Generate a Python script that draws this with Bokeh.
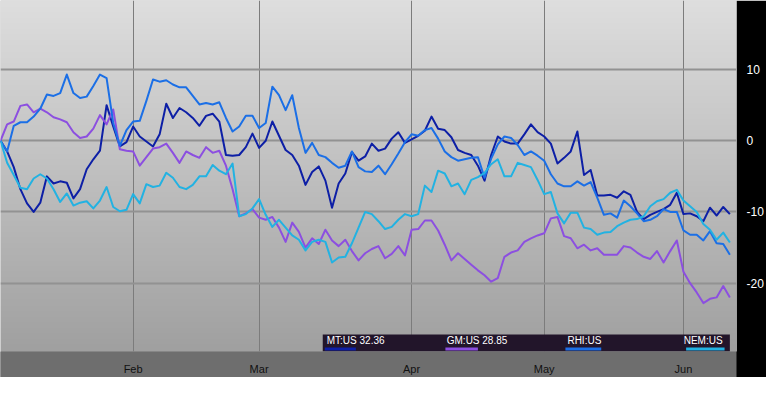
import numpy as np
from bokeh.plotting import figure
from bokeh.models import Range1d, BoxAnnotation, Label
from bokeh.embed import file_html
from bokeh.resources import INLINE

# ---- data (trading-day index, % change) ----
days = list(range(111))

mt = [0, -1.5, -3.7, -6.8, -8.8, -10.0, -8.7, -5.0, -6.0, -5.7, -5.9, -8.1, -6.8, -4.0, -2.6, -1.4, 5.0, 2.0, -0.8, -0.2,
      2.0, 0.6, -0.1, -0.8, 0.9, 5.2, 3.2, 4.6, 4.0, 3.2, 2.1, 3.5, 3.8, 2.7, -2.0, -2.1, -2.0, -0.9,
      1.0, -1.0, 0.0, 2.7, 0.7, -1.3, -2.0, -3.5, -6.2, -4.4, -3.6, -5.6, -9.4, -6.0, -4.6, -1.6, -2.8, -2.2, -0.4,
      -1.4, -1.1, 0.3, 1.2, -0.3, 0.2, 0.7, 1.4, 3.4, 1.7, 1.5, 0.5, -1.3, -1.7, -2.0, -3.5, -5.6, -2.0,
      0.6, -0.1, -0.4, -0.4, 0.9, 2.3, 1.2, 0.6, -0.4, -3.2, -2.4, -1.5, 1.3, -4.8, -4.1, -7.7, -7.7,
      -7.6, -8.0, -7.1, -7.6, -10.0, -11.0, -10.4, -10.0, -9.6, -9.0, -7.3, -10.3, -10.2, -10.6, -11.3, -9.4, -10.5, -9.3, -10.3]

gm = [0, 2.3, 2.7, 4.9, 5.1, 4.0, 4.5, 4.0, 3.3, 3.0, 2.6, 1.2, 0.4, 0.6, 1.7, 3.6, 2.3, 4.4, -1.2, -1.4,
      -1.5, -3.5, -2.3, -1.1, -0.9, -0.4, -1.7, -3.1, -1.5, -2.0, -2.4, -0.9, -1.7, -1.4, -3.5, -6.8, -10.6, -10.2,
      -9.6, -10.8, -11.1, -10.7, -12.2, -14.2, -11.5, -12.8, -15.0, -13.7, -14.5, -12.5, -14.0, -14.8, -13.9, -15.5, -16.8, -15.8, -15.2,
      -14.8, -16.5, -15.9, -14.8, -16.1, -12.5, -12.4, -11.2, -11.2, -12.6, -14.6, -16.8, -15.8, -16.6, -17.4, -18.2, -18.9, -19.8,
      -19.3, -16.3, -15.7, -15.4, -14.2, -13.7, -13.3, -13.0, -10.9, -10.7, -13.4, -13.7, -15.1, -14.6, -15.4, -15.1, -16.0,
      -16.0, -16.0, -14.8, -15.0, -15.7, -16.3, -16.6, -15.5, -17.1, -15.5, -14.0, -18.4, -20.0, -21.3, -22.8, -22.2, -22.0, -20.4, -22.0]

rhi = [0, -1.5, 2.1, 2.6, 2.6, 3.4, 4.5, 6.5, 6.3, 6.7, 9.3, 6.7, 6.0, 6.2, 7.7, 9.3, 8.8, 2.5, -0.7, 1.5,
       2.7, 2.8, 5.6, 8.6, 8.3, 8.5, 7.9, 7.5, 7.5, 6.3, 5.1, 5.3, 5.1, 5.4, 3.2, 1.3, 2.0, 3.5,
       3.5, 1.8, 2.5, 7.6, 6.4, 4.3, 6.4, 1.8, -1.7, -0.3, -2.0, -2.3, -3.1, -3.8, -3.5, -1.5, -3.7, -4.3, -4.4,
       -3.5, -4.7, -3.3, -1.8, -0.2, 0.9, 0.7, 1.5, 1.8, 0.3, -1.5, -2.3, -2.8, -2.6, -2.4, -2.3, -5.2, -2.5,
       -0.5, 0.6, 0.4, -0.6, -2.0, -1.5, -2.1, -2.8, -4.7, -6.0, -6.4, -6.4, -5.7, -6.3, -5.8, -8.0, -10.4,
       -10.2, -10.8, -8.4, -9.2, -10.2, -11.3, -11.1, -10.6, -9.6, -10.0, -10.0, -12.6, -13.2, -13.2, -14.0, -12.7, -14.4, -14.5, -16.0]

nem = [0, -3.1, -4.8, -6.6, -6.8, -5.3, -4.7, -5.3, -6.8, -8.6, -7.4, -9.1, -8.7, -8.5, -9.5, -8.4, -6.5, -9.3, -9.9, -9.7,
       -7.5, -8.8, -6.1, -6.5, -6.3, -4.5, -5.2, -6.5, -6.8, -6.2, -5.0, -5.0, -3.4, -4.2, -4.7, -3.2, -10.6, -10.3,
       -9.5, -8.2, -10.4, -12.1, -11.1, -12.2, -13.3, -13.9, -15.4, -14.2, -13.9, -14.2, -17.1, -16.4, -16.3, -14.4, -12.2, -10.0, -10.3,
       -11.3, -12.4, -12.1, -11.1, -10.3, -10.6, -10.3, -6.3, -7.2, -4.2, -4.6, -6.4, -6.0, -7.5, -5.5, -5.1, -4.5, -3.3,
       -2.6, -5.0, -5.0, -3.1, -3.4, -3.7, -5.5, -7.5, -7.2, -10.2, -11.6, -10.1, -10.1, -12.2, -12.4, -13.2, -12.9,
       -12.8, -12.0, -11.5, -11.1, -11.0, -10.6, -9.2, -8.5, -8.2, -7.3, -6.9, -8.4, -9.2, -10.0, -11.7, -12.5, -13.9, -12.9, -14.3]

tick_days = [20, 39, 62, 82, 103]
tick_labels = ["Feb", "Mar", "Apr", "May", "Jun"]
y_ticks = [-20, -10, 0, 10]
y_tick_labels = ["-20", "-10", "0", "10"]

series_names = ["MT:US 32.36", "GM:US 28.85", "RHI:US", "NEM:US"]
series_values = [mt, gm, rhi, nem]
series_colors = ["#0d1fa6", "#8c4fe0", "#1b6fe6", "#22b2e2"]

# ---- layout constants ----
X0, X1 = 0, 111
Y0, Y1 = -29.6, 19.7
FONT = "Liberation Sans"

p = figure(width=766, height=377, x_range=Range1d(X0, X1), y_range=Range1d(Y0, Y1),
           output_backend="svg", toolbar_location=None, y_axis_location="right",
           min_border_left=0, min_border_top=0, min_border_right=23, min_border_bottom=22)
p.outline_line_color = None
p.border_fill_color = "black"
p.background_fill_color = "#c0c0c0"

# vertical gradient for the plot area
H = 256
top = np.array([222, 222, 222], dtype=float)
bot = np.array([160, 160, 160], dtype=float)
t = np.linspace(0, 1, H)[:, None]
cols = (bot + (top - bot) * t).astype(np.uint8)
img = np.zeros((H, 2), dtype=np.uint32)
view = img.view(dtype=np.uint8).reshape((H, 2, 4))
for k in range(2):
    view[:, k, 0] = cols[:, 0]
    view[:, k, 1] = cols[:, 1]
    view[:, k, 2] = cols[:, 2]
    view[:, k, 3] = 255
p.image_rgba(image=[img], x=X0, y=Y0, dw=X1 - X0, dh=Y1 - Y0, level="image")

# lines
for vals, col in zip(series_values, series_colors):
    p.line(days, vals, line_color=col, line_width=2, line_join="round")

# axes
p.xaxis.ticker = tick_days
p.xaxis.major_label_overrides = {d: l for d, l in zip(tick_days, tick_labels)}
p.yaxis.ticker = y_ticks
p.yaxis.major_label_overrides = {v: l for v, l in zip(y_ticks, y_tick_labels)}
for ax in (p.xaxis[0], p.yaxis[0]):
    ax.axis_line_color = None
    ax.major_tick_line_color = None
    ax.minor_tick_line_color = None
    ax.major_label_text_font = FONT
p.xaxis.major_label_text_font_size = "11px"
p.yaxis.major_label_text_font_size = "12px"
p.xaxis.major_label_text_color = "#111111"
p.xaxis.major_label_standoff = 5
p.xaxis.background_fill_color = "#6e6e6e"
p.yaxis.major_label_text_color = "white"
p.yaxis.major_label_standoff = 4

# grids
p.ygrid.grid_line_color = "#929292"
p.ygrid.grid_line_width = 2
p.xgrid.grid_line_color = "#7c7c7c"
p.xgrid.grid_line_width = 1

# custom legend
leg_box = dict(left=48.6, right=110.0, top=-27.2, bottom=Y0)
p.add_layout(BoxAnnotation(**leg_box, fill_color="#22152a", fill_alpha=1.0,
                           line_color=None, level="overlay"))
leg_text_x = [49.2, 67.3, 85.5, 108.9]
leg_align = ["left", "left", "left", "right"]
leg_bar_x = [(48.9, 53.6), (67.1, 72.0), (85.2, 90.6), (103.4, 109.2)]
for name, col, tx, al, (bl, br) in zip(series_names, series_colors, leg_text_x, leg_align, leg_bar_x):
    p.add_layout(Label(x=tx, y=-28.05, text=name, text_color="white", text_font=FONT,
                       text_font_size="10px", text_align=al, text_baseline="middle",
                       level="overlay"))
    p.add_layout(BoxAnnotation(left=bl, right=br, top=-29.05, bottom=-29.45,
                               fill_color=col, fill_alpha=1.0, line_color=None, level="overlay"))

open("out.html", "w").write(file_html(p, INLINE))
